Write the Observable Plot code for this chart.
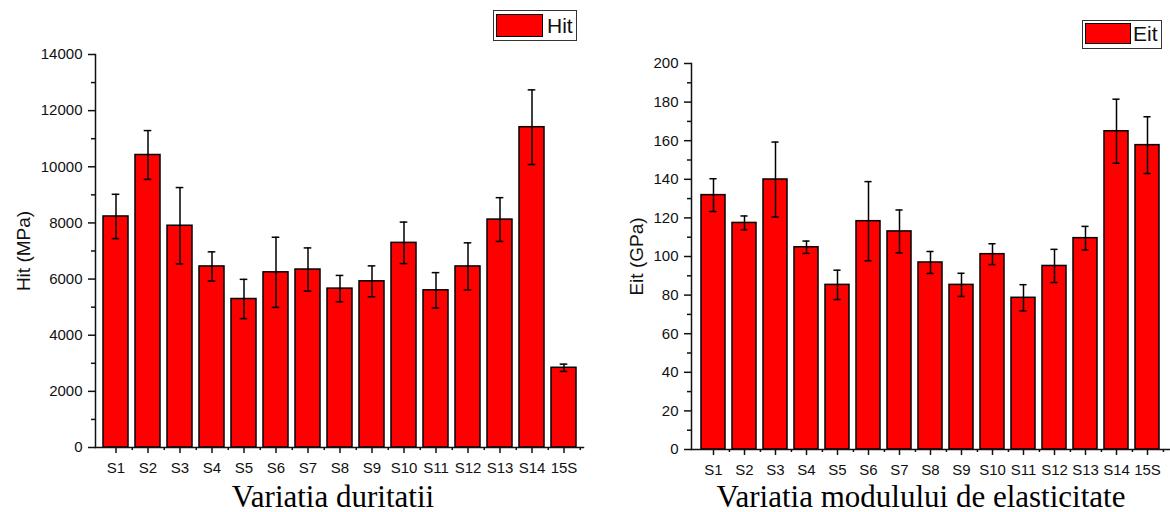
<!DOCTYPE html>
<html>
<head>
<meta charset="utf-8">
<script src="https://cdn.jsdelivr.net/npm/d3@7"></script>
<script src="https://cdn.jsdelivr.net/npm/@observablehq/plot@0.6"></script>
<style>
  html, body { margin: 0; padding: 0; background: #fff; }
  #page { position: relative; width: 1170px; height: 512px; background: #fff; color: #111; }
  .chart { position: absolute; top: 0; }
  .caption { position: absolute; font-family: "Liberation Serif", "Times New Roman", serif; font-size: 31px; line-height: 28px; text-align: center; color: #000; white-space: nowrap; }
  .lgbox { position: absolute; box-sizing: border-box; border: 1.5px solid #333; background: #fff; }
  .lgsw { position: absolute; box-sizing: border-box; background: #ff0000; border: 1.5px solid #000; }
  .lgtx { position: absolute; font-family: Arial, "Liberation Sans", sans-serif; font-size: 21px; line-height: 21px; color: #111; }
</style>
</head>
<body>
<div id="page">
  <div id="left" class="chart" style="left:0px"></div>
  <div id="right" class="chart" style="left:600px"></div>
  <div class="caption" style="left:133px; top:483px; width:400px;">Variatia duritatii</div>
  <div class="caption" style="left:671px; top:483px; width:500px;">Variatia modulului de elasticitate</div>
  <div class="lgbox" style="left:493px; top:10px; width:84px; height:31px;"></div>
  <div class="lgsw" style="left:496px; top:14px; width:47px; height:23px;"></div>
  <div class="lgtx" style="left:547px; top:15px;">Hit</div>
  <div class="lgbox" style="left:1082px; top:20px; width:80px; height:29px;"></div>
  <div class="lgsw" style="left:1085px; top:23px; width:46px; height:21px;"></div>
  <div class="lgtx" style="left:1133px; top:23px;">Eit</div>
</div>
<script>
// ---- data ----
const samples = ["S1","S2","S3","S4","S5","S6","S7","S8","S9","S10","S11","S12","S13","S14","15S"];
const hitValues = [8230, 10420, 7900, 6450, 5290, 6240, 6340, 5660, 5920, 7290, 5600, 6450, 8120, 11410, 2840];
const hitErrors = [790, 870, 1360, 520, 700, 1250, 770, 470, 550, 740, 630, 840, 780, 1330, 130];
const eitValues = [131.8, 117.4, 139.9, 104.8, 85.3, 118.3, 113.0, 96.9, 85.3, 101.2, 78.6, 95.1, 109.5, 164.9, 157.7];
const eitErrors = [8.5, 3.6, 19.4, 3.2, 7.6, 20.5, 11.1, 5.7, 6.0, 5.4, 6.8, 8.6, 6.1, 16.6, 14.7];
const hitTicks = [0, 2000, 4000, 6000, 8000, 10000, 12000, 14000];
const hitMinor = [1000, 3000, 5000, 7000, 9000, 11000, 13000];
const eitTicks = [0, 20, 40, 60, 80, 100, 120, 140, 160, 180, 200];
const eitMinor = [10, 30, 50, 70, 90, 110, 130, 150, 170, 190];

function makeChart({values, errors, ticks, minor, yMax, yLabel, width, height, marginLeft, marginRight, marginTop, marginBottom, labelDx}) {
  const data = samples.map((s, i) => ({s, v: values[i], e: errors[i]}));
  const step = (width - marginLeft - marginRight) / samples.length;
  const pad = 0.22;
  const bw = step * (1 - pad);
  const capInset = (bw - 8) / 2;
  return Plot.plot({
    width, height, marginLeft, marginRight, marginTop, marginBottom,
    style: {fontFamily: "Arial, 'Liberation Sans', sans-serif", fontSize: "15px", color: "#111", background: "#fff"},
    x: {domain: samples, paddingInner: pad, paddingOuter: pad / 2, label: null},
    y: {domain: [0, yMax], label: null},
    marks: [
      Plot.barY(data, {x: "s", y: "v", fill: "#ff0000", stroke: "#000", strokeWidth: 1.5}),
      Plot.ruleX(data, {x: "s", y1: d => d.v - d.e, y2: d => d.v + d.e, stroke: "#000", strokeWidth: 1.5}),
      Plot.tickY(data, {x: "s", y: d => d.v + d.e, stroke: "#000", strokeWidth: 1.5, insetLeft: capInset, insetRight: capInset}),
      Plot.tickY(data, {x: "s", y: d => d.v - d.e, stroke: "#000", strokeWidth: 1.5, insetLeft: capInset, insetRight: capInset}),
      Plot.axisY({ticks, tickSize: 7, tickPadding: 6, tickFormat: d3.format("d"), strokeWidth: 1.5, label: null}),
      Plot.axisY({ticks: minor, tickSize: 4, tickFormat: () => "", strokeWidth: 1.5, label: null}),
      Plot.axisX({tickSize: 6, tickPadding: 9, strokeWidth: 1.5, label: null}),
      Plot.axisX({tickSize: 3, tickFormat: () => "", dx: step / 2, strokeWidth: 1.5, label: null}),
      Plot.frame({anchor: "left", strokeWidth: 1.5}),
      Plot.frame({anchor: "bottom", strokeWidth: 1.5}),
      Plot.text([yLabel], {frameAnchor: "left", textAnchor: "middle", rotate: -90, dx: labelDx, fontSize: 19, fill: "#111"})
    ]
  });
}

document.getElementById("left").append(makeChart({
  values: hitValues, errors: hitErrors, ticks: hitTicks, minor: hitMinor, yMax: 14000,
  yLabel: "Hit (MPa)", width: 590, height: 480, marginLeft: 95, marginRight: 7, marginTop: 54, marginBottom: 33, labelDx: -72
}));
document.getElementById("right").append(makeChart({
  values: eitValues, errors: eitErrors, ticks: eitTicks, minor: eitMinor, yMax: 200,
  yLabel: "Eit (GPa)", width: 570, height: 480, marginLeft: 91, marginRight: 1, marginTop: 63, marginBottom: 31, labelDx: -55
}));
</script>
</body>
</html>
